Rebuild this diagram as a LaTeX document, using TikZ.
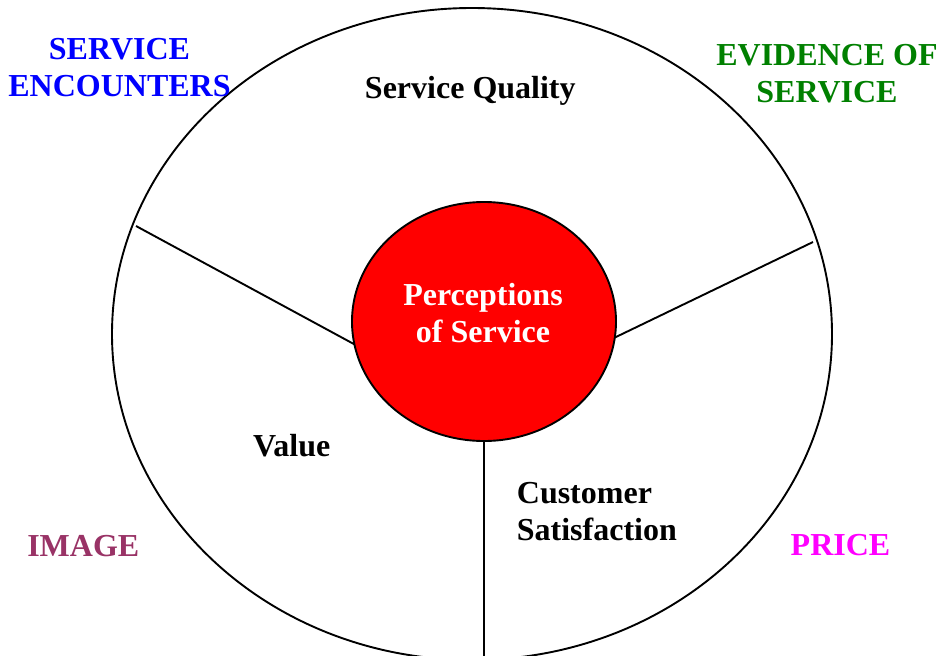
\documentclass[tikz,border=0pt]{standalone}
\usepackage{fontspec}
\setmainfont{Liberation Serif}
\usetikzlibrary{shapes.geometric}
\definecolor{encblue}{RGB}{0,0,255}
\definecolor{evgreen}{RGB}{0,128,0}
\definecolor{imgplum}{RGB}{153,51,102}
\definecolor{pricepink}{RGB}{255,0,255}
\definecolor{corered}{RGB}{255,0,0}
\begin{document}
\begin{tikzpicture}[x=1pt,y=-1pt,
  lbl/.style={font=\fontsize{32}{37}\selectfont\bfseries, inner sep=0pt, anchor=base, align=center},
  ring/.style={ellipse, draw, line width=1.9pt, inner sep=0pt, outer sep=0pt},
  spoke/.style={line width=1.9pt}]
\useasboundingbox (0,0) rectangle (940,656);

% outer ring and the red core
\node[ring, minimum width=720pt, minimum height=652pt] (rim) at (472,334) {};
\node[ring, fill=corered, minimum width=264pt, minimum height=239pt] (core) at (484,321.5) {};

% spokes dividing the ring into three sectors
\coordinate (nw) at (136,226);
\coordinate (ne) at (813,242);
\coordinate (s) at (484,662);
\draw[spoke] (core.190) -- (nw);
\draw[spoke] (core.353) -- (ne);
\draw[spoke] (core.south) -- (s);

% labels (multi-line nodes sit on the baseline of their last line)
\node[lbl, text=white] (percep) at (483,342.7) {Perceptions\\of Service};
\node[lbl] (quality) at (470.3,98.3) {Service Quality};
\node[lbl] (value) at (291.7,456.7) {Value};
\node[lbl, anchor=base west, align=left] (satis) at (516.7,540) {Customer\\Satisfaction};

\node[lbl, text=encblue] (enc) at (119.5,96.7) {SERVICE\\ENCOUNTERS};
\node[lbl, text=evgreen] (evid) at (827,102.3) {EVIDENCE OF\\SERVICE};
\node[lbl, text=imgplum] (image) at (83.3,556.7) {IMAGE};
\node[lbl, text=pricepink] (price) at (840.5,555) {PRICE};
\end{tikzpicture}
\end{document}
